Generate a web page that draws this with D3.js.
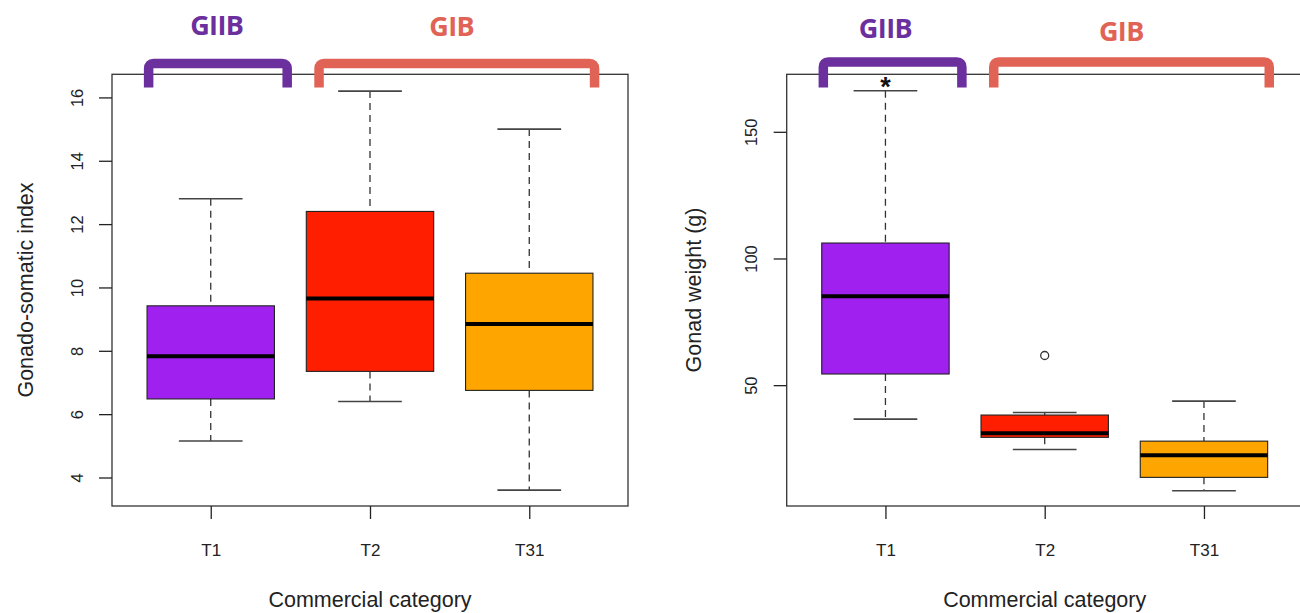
<!DOCTYPE html>
<html>
<head>
<meta charset="utf-8">
<script src="https://cdn.jsdelivr.net/npm/d3@7"></script>
<style>
  html, body { margin: 0; padding: 0; background: #ffffff; }
  svg { display: block; }
</style>
</head>
<body>
<svg id="chart" width="1300" height="613"></svg>
<script>
// ---------------- data ----------------
const categories = ["T1", "T2", "T31"];
const boxColors = ["#A020F0", "#FF1F00", "#FFA500"];

// Gonado-somatic index (left panel)
const gsiLow    = [5.15, 6.4, 3.6];
const gsiQ1     = [6.48, 7.35, 6.75];
const gsiMedian = [7.83, 9.65, 8.85];
const gsiQ3     = [9.42, 12.4, 10.45];
const gsiHigh   = [12.8, 16.2, 15.0];
const gsiOutliers = [[], [], []];
const gsiTicks  = [4, 6, 8, 10, 12, 14, 16];

// Gonad weight (g) (right panel)
const weightLow    = [36.6, 24.6, 8.3];
const weightQ1     = [54.4, 29.4, 13.6];
const weightMedian = [85.1, 31.0, 22.3];
const weightQ3     = [106.1, 38.2, 27.9];
const weightHigh   = [166.2, 39.2, 43.7];
const weightOutliers = [[], [61.7], []];
const weightTicks  = [50, 100, 150];

// groups above the boxes
const groupNames = ["GIIB", "GIB"];
const groupCats  = [["T1"], ["T2", "T31"]];
const groupColors = ["#6B2F9E", "#E06356"];

const xTitle = "Commercial category";

// ---------------- drawing ----------------
const svg = d3.select("#chart");
const FONT = "'Liberation Sans', Arial, Helvetica, sans-serif";

function drawPanel(opts) {
  const g = svg.append("g");
  const x = d3.scalePoint().domain(categories)
    .range([opts.left, opts.left + 516]).padding(0.62);
  const y = d3.scaleLinear().domain(opts.domain).range([506, 74.3]);
  const step = x.step();
  const bw = step * 0.8;
  const cw = bw * 0.5;

  const stats = categories.map((c, i) => ({
    c, i,
    lo: opts.low[i], q1: opts.q1[i], med: opts.median[i],
    q3: opts.q3[i], hi: opts.high[i], out: opts.outliers[i]
  }));

  const items = g.selectAll("g.box").data(stats).join("g").attr("class", "box");

  // whiskers (dashed)
  items.append("line")
    .attr("x1", d => x(d.c)).attr("x2", d => x(d.c))
    .attr("y1", d => y(d.hi)).attr("y2", d => y(d.q3))
    .attr("stroke", "#333").attr("stroke-width", 1.3).attr("stroke-dasharray", "7,5");
  items.append("line")
    .attr("x1", d => x(d.c)).attr("x2", d => x(d.c))
    .attr("y1", d => y(d.q1)).attr("y2", d => y(d.lo))
    .attr("stroke", "#333").attr("stroke-width", 1.3).attr("stroke-dasharray", "7,5");
  // caps
  items.append("line")
    .attr("x1", d => x(d.c) - cw / 2).attr("x2", d => x(d.c) + cw / 2)
    .attr("y1", d => y(d.hi)).attr("y2", d => y(d.hi))
    .attr("stroke", "#444").attr("stroke-width", 1.6);
  items.append("line")
    .attr("x1", d => x(d.c) - cw / 2).attr("x2", d => x(d.c) + cw / 2)
    .attr("y1", d => y(d.lo)).attr("y2", d => y(d.lo))
    .attr("stroke", "#444").attr("stroke-width", 1.6);
  // box
  items.append("rect")
    .attr("x", d => x(d.c) - bw / 2).attr("width", bw)
    .attr("y", d => y(d.q3)).attr("height", d => y(d.q1) - y(d.q3))
    .attr("fill", d => boxColors[d.i]).attr("stroke", "#222").attr("stroke-width", 1.1);
  // median
  items.append("line")
    .attr("x1", d => x(d.c) - bw / 2).attr("x2", d => x(d.c) + bw / 2)
    .attr("y1", d => y(d.med)).attr("y2", d => y(d.med))
    .attr("stroke", "#000").attr("stroke-width", 4);
  // outliers
  items.selectAll("circle").data(d => d.out.map(v => ({ c: d.c, v })))
    .join("circle")
    .attr("cx", d => x(d.c)).attr("cy", d => y(d.v)).attr("r", 4)
    .attr("fill", "none").attr("stroke", "#333").attr("stroke-width", 1.3);

  // frame
  g.append("rect").attr("x", opts.left).attr("y", 74.3)
    .attr("width", 516).attr("height", 506 - 74.3)
    .attr("fill", "none").attr("stroke", "#333").attr("stroke-width", 1.3);

  // y axis
  const yAxis = g.append("g").attr("transform", `translate(${opts.left},0)`)
    .call(d3.axisLeft(y).tickValues(opts.ticks).tickSize(13).tickFormat(d3.format("d")).tickPadding(0));
  yAxis.select(".domain").remove();
  yAxis.selectAll(".tick line").attr("stroke", "#222").attr("stroke-width", 1.3);
  yAxis.selectAll(".tick text").remove();
  yAxis.selectAll(".tick").append("text")
    .attr("transform", `translate(${opts.yLabelX - opts.left},0) rotate(-90)`)
    .attr("text-anchor", "middle").attr("fill", "#222")
    .style("font-family", FONT).style("font-size", "16.5px")
    .text(d => d);

  // x axis ticks
  const xAxis = g.append("g").attr("transform", "translate(0,506)")
    .call(d3.axisBottom(x).tickSize(13).tickPadding(0));
  xAxis.select(".domain").remove();
  xAxis.selectAll(".tick line").attr("stroke", "#222").attr("stroke-width", 1.3);
  xAxis.selectAll(".tick text").attr("y", 50).attr("dy", null).attr("fill", "#222")
    .style("font-family", FONT).style("font-size", "17px");

  // axis titles
  g.append("text").attr("x", x.range()[0] + 258).attr("y", 607)
    .attr("text-anchor", "middle").attr("fill", "#222")
    .style("font-family", FONT).style("font-size", "21.5px").text(xTitle);
  g.append("text")
    .attr("transform", `translate(${opts.titleX},290) rotate(-90)`)
    .attr("text-anchor", "middle").attr("fill", "#222")
    .style("font-family", FONT).style("font-size", "21.5px").text(opts.yTitle);

  // asterisk annotation
  if (opts.star) {
    g.append("text").attr("x", x(opts.star)).attr("y", 96)
      .attr("text-anchor", "middle").attr("fill", "#111")
      .style("font-family", FONT).style("font-weight", "700")
      .style("font-size", "27px").text("*");
  }

  // group brackets
  groupNames.forEach((name, gi) => {
    const cats = groupCats[gi];
    const xs = cats.map(c => x(c));
    const single = cats.length === 1;
    const x0 = xs[0] - (single ? 0.39 : 0.32) * step;
    const x1 = xs[xs.length - 1] + (single ? 0.48 : 0.41) * step;
    const yb = opts.bracketY, yl = 87.5, r = 5;
    const path = `M${x0},${yl} V${yb + r} Q${x0},${yb} ${x0 + r},${yb} H${x1 - r} Q${x1},${yb} ${x1},${yb + r} V${yl}`;
    g.append("path").attr("d", path).attr("fill", "none")
      .attr("stroke", groupColors[gi]).attr("stroke-width", 9.5);
    g.append("text").attr("x", d3.mean(xs) + opts.labelDx[gi]).attr("y", opts.labelY[gi])
      .attr("text-anchor", "middle").attr("fill", groupColors[gi])
      .style("font-family", "'Open Sans', sans-serif").style("font-weight", "700")
      .style("font-size", "27px").style("letter-spacing", "-0.6px").text(name);
  });
}

drawPanel({
  left: 112, domain: [3.1, 16.73], ticks: gsiTicks,
  low: gsiLow, q1: gsiQ1, median: gsiMedian, q3: gsiQ3, high: gsiHigh, outliers: gsiOutliers,
  yLabelX: 83, titleX: 33, yTitle: "Gonado-somatic index",
  bracketY: 63.5, labelY: [35, 36], labelDx: [6, 2]
});
drawPanel({
  left: 786.7, domain: [2.3, 172.7], ticks: weightTicks,
  low: weightLow, q1: weightQ1, median: weightMedian, q3: weightQ3, high: weightHigh, outliers: weightOutliers,
  yLabelX: 757, titleX: 701, yTitle: "Gonad weight (g)", star: "T1",
  bracketY: 62, labelY: [38, 40.5], labelDx: [0, -3]
});
</script>
</body>
</html>
